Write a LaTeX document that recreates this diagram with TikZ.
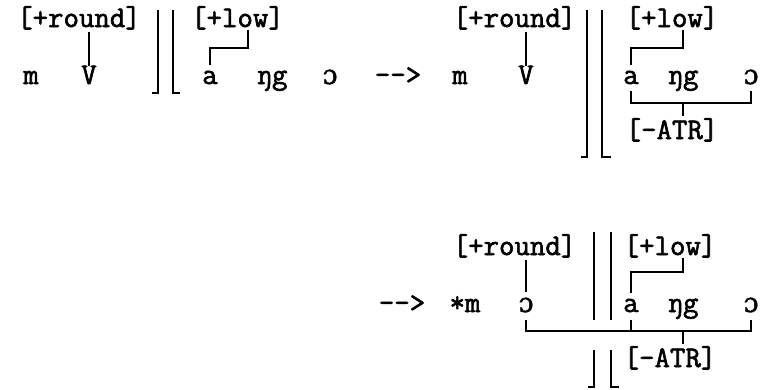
\documentclass[tikz,border=0pt]{standalone}
\usepackage{fontspec}
\newfontfamily\tw{Latin Modern Mono}[FakeBold=2]
\newfontfamily\ipafont{DejaVu Serif}[FakeBold=1.5]
\newcommand\oo{{\ipafont\fontsize{27}{30}\selectfont ɔ}}
\begin{document}
\begin{tikzpicture}[x=1pt,y=-1pt,
  txt/.style={anchor=base,inner sep=0pt,outer sep=0pt,font=\fontsize{30}{34}\selectfont\tw},
  ln/.style={line width=1.6pt,line cap=butt}]
\useasboundingbox (0,0) rectangle (767,389);
% ---------- row 1, left ----------
\node[txt] (round1) at (79,27) {[+round]};
\node[txt] (m1) at (31,84) {m};
\node[txt] (v1) at (89,84) {V};
\draw[ln] ([yshift=-3pt]round1.south -| v1.north) -- (v1.north);
\draw[ln] (158,10) -- (158,93) -- (152,93);
\draw[ln] (173,10) -- (173,93) -- (180,93);
\node[txt] (low1) at (237.5,27) {[+low]};
\node[txt] (a1) at (210,84) {a};
\node[txt] (ng1) at (272,84) {ŋg};
\node[txt] (o1) at (330,84) {\oo};
\coordinate (low1x) at (248,30);
\draw[ln] (low1x) -- ++(0,18) -| ([yshift=6pt]a1.north);
\node[txt] (arr1) at (398,84) {-->};
% ---------- row 1, right ----------
\node[txt] (m2) at (460,84) {m};
\node[txt] (round2) at (514.5,27) {[+round]};
\node[txt] (v2) at (526,84) {V};
\draw[ln] ([yshift=-3pt]round2.south -| v2.north) -- (v2.north);
\draw[ln] (587,10) -- (587,157) -- (581,157);
\draw[ln] (602,10) -- (602,157) -- (611,157);
\node[txt] (low2) at (672,27) {[+low]};
\node[txt] (a2) at (631,84) {a};
\node[txt] (ng2) at (683,84) {ŋg};
\node[txt] (o2) at (751,84) {\oo};
\coordinate (low2x) at (683,30);
\draw[ln] (low2x) -- ++(0,18) -| ([yshift=6pt]a2.north);
\node[txt] (atr2) at (672,139) {[-ATR]};
\coordinate (br2m) at (683,103);
\draw[ln] ([yshift=-7pt]a2.base) |- (br2m) -| ([yshift=-7pt]o2.base);
\draw[ln] (br2m) -- ([yshift=2pt]atr2.north -| br2m);
% ---------- row 3 ----------
\node[txt] (arr3) at (402,312) {-->};
\node[txt] (m3) at (465,312) {*m};
\node[txt] (round3) at (514.5,255) {[+round]};
\node[txt] (o3a) at (526,312) {\oo};
\draw[ln] ([yshift=-3pt]round3.south -| o3a.north) -- ([yshift=6pt]o3a.north);
\draw[ln] (594,232) -- (594,320);
\draw[ln] (611,232) -- (611,320);
\node[txt] (low3) at (670,255) {[+low]};
\node[txt] (a3) at (631,312) {a};
\node[txt] (ng3) at (683,312) {ŋg};
\node[txt] (o3) at (751,312) {\oo};
\coordinate (low3x) at (683,258);
\draw[ln] (low3x) -- ++(0,14) -| ([yshift=6pt]a3.north);
\coordinate (br3m) at (683,331);
\draw[ln] ([yshift=-8pt]o3a.base) |- (br3m) -| ([yshift=-8pt]o3.base);
\draw[ln] ([yshift=-8pt]a3.base) -- (a3.base |- br3m);
\node[txt] (atr3) at (670,367) {[-ATR]};
\draw[ln] (br3m) -- ([yshift=2pt]atr3.north -| br3m);
\draw[ln] (594,350) -- (594,387) -- (588,387);
\draw[ln] (611,350) -- (611,387) -- (619,387);
\end{tikzpicture}
\end{document}
